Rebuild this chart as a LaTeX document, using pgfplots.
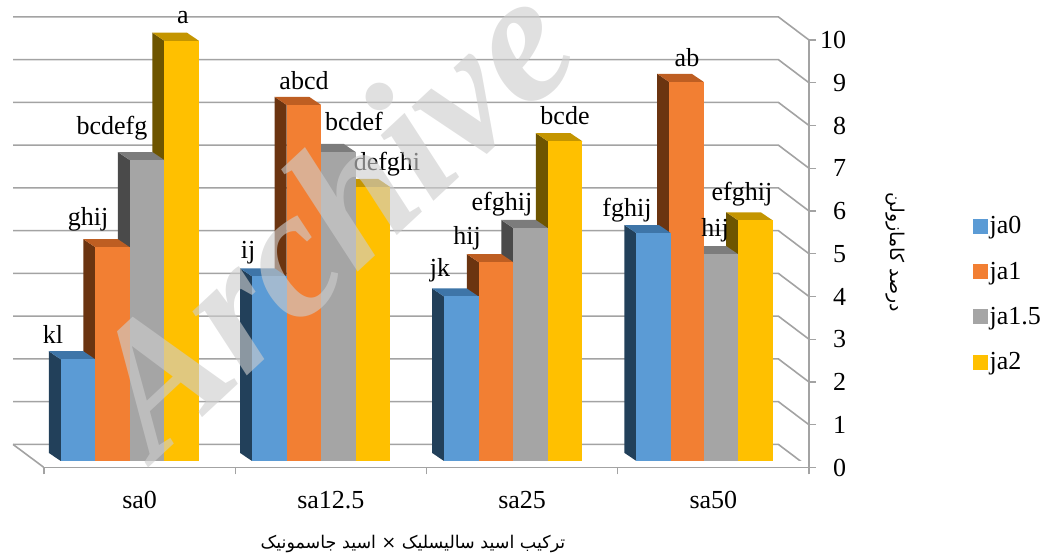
\documentclass[border=0pt]{standalone}
\usepackage{pgfplots}
\pgfplotsset{compat=1.18}
\usepackage{fontspec}
\setmainfont{Liberation Serif}
\newfontfamily\arabicfont[Script=Arabic]{DejaVu Sans}
\TeXXeTstate=1
\definecolor{gridc}{HTML}{A3A3A3}
\definecolor{fA}{HTML}{5B9BD5}\definecolor{sA}{HTML}{22405A}\definecolor{tA}{HTML}{3E75A8}
\definecolor{fB}{HTML}{F27F33}\definecolor{sB}{HTML}{6B3410}\definecolor{tB}{HTML}{BE5E22}
\definecolor{fC}{HTML}{A5A5A5}\definecolor{sC}{HTML}{4A4A4A}\definecolor{tC}{HTML}{7C7C7C}
\definecolor{fD}{HTML}{FFC000}\definecolor{sD}{HTML}{6E5500}\definecolor{tD}{HTML}{C49500}
\definecolor{wm}{RGB}{205,205,205}
\newcommand{\fs}{\fontsize{26}{30}\selectfont}
% one 3-D column: group, offset within group, value, colour letter
\newcommand{\column}[4]{%
  \pgfmathsetmacro\xc{#1+#2}%
  \pgfmathsetmacro\xl{\xc-0.0904}%
  \pgfmathsetmacro\xr{\xc+0.0904}%
  \pgfmathsetmacro\xlb{\xl-0.0627}%
  \pgfmathsetmacro\xrb{\xr-0.0627}%
  \pgfmathsetmacro\vb{#3+0.19}%
  \edef\tmp{%
    \noexpand\addplot[fill=s#4,draw=none,forget plot] coordinates {(\xl,0.152)(\xlb,0.342)(\xlb,\vb)(\xl,#3)};
    \noexpand\addplot[fill=t#4,draw=none,forget plot] coordinates {(\xl,#3)(\xlb,\vb)(\xrb,\vb)(\xr,#3)};
    \noexpand\addplot[ybar,bar shift=0pt,bar width=0.1808,fill=f#4,draw=none,forget plot] coordinates {(\xc,#3)};
  }\tmp
}
\newcommand{\wall}[1]{%
  \pgfmathsetmacro\vb{#1+0.54}%
  \edef\tmp{\noexpand\addplot[gridc,line width=1.6pt,forget plot] coordinates {(-0.662,\vb)(3.34,\vb)(3.5,#1)};}\tmp
}
\newcommand{\lab}[3]{\node[font=\fs,inner sep=0pt] at ({#1-44},{467.5-#2}) {#3};}
\begin{document}
\begin{tikzpicture}[x=1pt,y=1pt]
\useasboundingbox (-44,-86.5) rectangle (1001,467.5);
\begin{axis}[
  at={(0pt,0pt)},anchor=south west,
  scale only axis,width=765pt,height=427.5pt,
  xmin=-0.5,xmax=3.5,ymin=0,ymax=10,
  clip=false,axis on top,
  axis x line=bottom,axis y line=right,
  axis line style={-,gridc,line width=1.6pt},
  tick style={gridc,line width=1.2pt},
  major tick length=7pt,tick align=outside,
  xtick={-0.5,0.5,1.5,2.5,3.5},
  xticklabels={sa0,sa12.5,sa25,sa50},
  x tick label as interval,
  ytick={0,1,...,10},
  /pgf/number format/assume math mode=true,
  tick label style={font=\fs,black},
  xtick style={gridc},
  xticklabel style={yshift=-13pt},
  yticklabel style={text width=30pt,align=right,inner sep=0pt},
  legend style={at={(960pt,173.5pt)},anchor=west,draw=none,fill=none,font=\fs,
     row sep=22.6pt,inner sep=0pt,legend cell align=left,
     /tikz/every even column/.append style={column sep=5pt}},
  legend image code/.code={\fill[#1] (0pt,-7pt) rectangle (14pt,7pt);},
]
\addlegendimage{fA}\addlegendentry{ja0}
\addlegendimage{fB}\addlegendentry{ja1}
\addlegendimage{fC}\addlegendentry{ja1.5}
\addlegendimage{fD}\addlegendentry{ja2}
\wall{0}\wall{1}\wall{2}\wall{3}\wall{4}\wall{5}\wall{6}\wall{7}\wall{8}\wall{9}\wall{10}
\addplot[gridc,line width=1.6pt,forget plot] coordinates {(-0.662,0.54)(-0.5,0)};
% ja2
\column{0}{0.220}{9.98}{D}\column{1}{0.220}{6.56}{D}\column{2}{0.225}{7.63}{D}\column{3}{0.220}{5.78}{D}
% ja1.5
\column{0}{0.039}{7.19}{C}\column{1}{0.039}{7.38}{C}\column{2}{0.044}{5.60}{C}\column{3}{0.039}{4.99}{C}
% ja1
\column{0}{-0.141}{5.15}{B}\column{1}{-0.141}{8.48}{B}\column{2}{-0.136}{4.80}{B}\column{3}{-0.141}{9.02}{B}
% ja0
\column{0}{-0.322}{2.53}{A}\column{1}{-0.322}{4.47}{A}\column{2}{-0.318}{4.00}{A}\column{3}{-0.312}{5.48}{A}
% front edge of the floor
\addplot[fill=white,draw=none,forget plot] coordinates {(-0.5,0)(3.5,0)(3.5,0.152)(-0.5,0.152)};
\end{axis}
\lab{183}{18}{a}
\lab{53}{334}{kl}
\lab{88}{219}{ghij}
\lab{112}{128}{bcdefg}
\lab{248}{253}{ij}
\lab{304}{81}{abcd}
\lab{354}{121}{bcdef}
\lab{387}{164}{defghi}
\lab{440}{270}{jk}
\lab{467}{238}{hij}
\lab{502}{204}{efghij}
\lab{565}{116}{bcde}
\lab{627}{210}{fghij}
\lab{687}{58}{ab}
\lab{715}{230}{hij}
\lab{742}{194}{efghij}
\node[font=\fontsize{17.5}{20}\selectfont] at (369,-76) {\arabicfont\beginR ترکیب اسید سالیسلیک × اسید جاسمونیک\endR};
\node[font=\fontsize{19}{22}\selectfont,rotate=-90] at (851,215) {\arabicfont\beginR درصد کامازولن\endR};
\node[font=\fontsize{183}{183}\bfseries\itshape\selectfont,text=wm,text opacity=0.62,rotate=43,inner sep=0pt] at (284,253) {Archive};
\end{tikzpicture}
\end{document}
